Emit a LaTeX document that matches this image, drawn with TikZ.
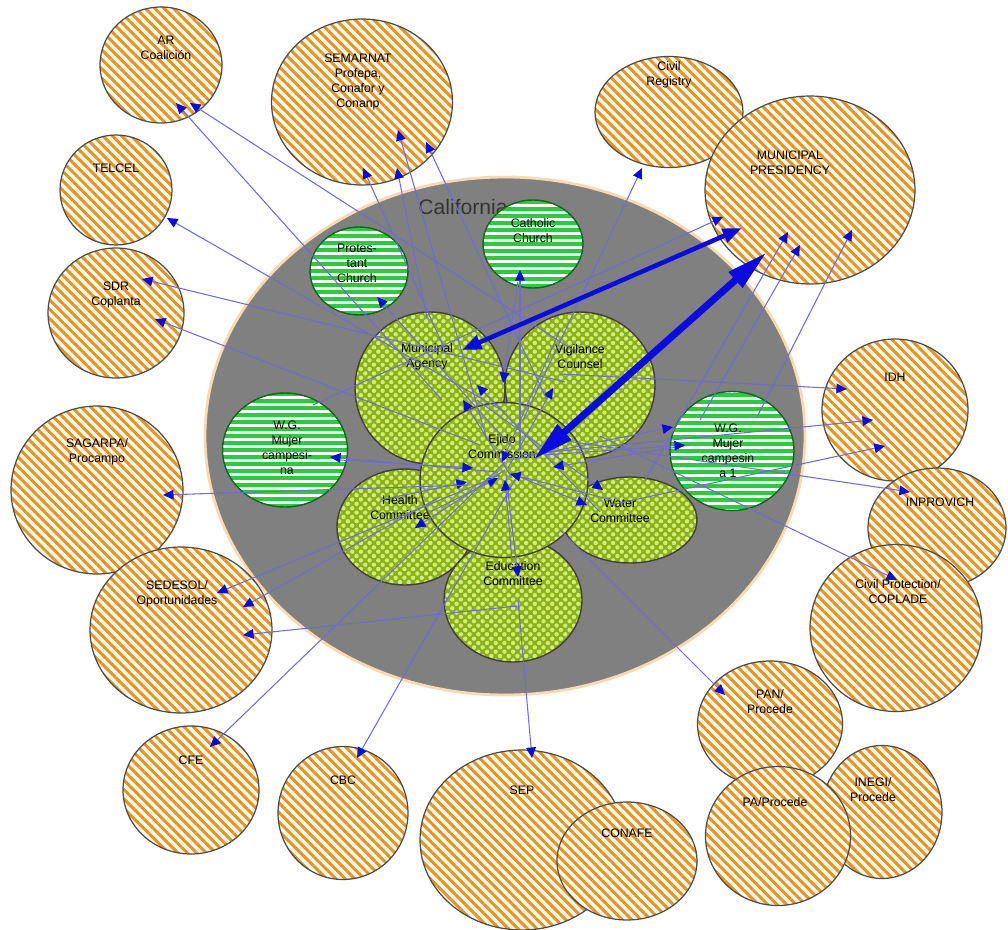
\documentclass[tikz,border=0pt]{standalone}
\usepackage{fontspec}
\setmainfont{Liberation Sans}
\usetikzlibrary{arrows.meta,shapes.geometric,patterns.meta}

\definecolor{stripeor}{RGB}{226,148,38}
\definecolor{paleor}{RGB}{255,248,232}
\definecolor{churchgr}{RGB}{40,205,60}
\definecolor{churchln}{RGB}{20,100,30}
\definecolor{commbase}{RGB}{138,176,26}
\definecolor{commdot}{RGB}{212,236,118}
\definecolor{linkblue}{RGB}{110,110,210}
\definecolor{tipblue}{RGB}{10,10,225}
\definecolor{valley}{RGB}{128,128,128}
\definecolor{rimor}{RGB}{248,218,178}

\begin{document}
\begin{tikzpicture}[x=0.02cm, y=-0.02cm,
  org/.style={ellipse, draw=black!70, line width=0.7pt, inner sep=0pt, preaction={fill=paleor},
    pattern={Lines[angle=-45,distance=3.8pt,line width=1.7pt]}, pattern color=stripeor},
  church/.style={ellipse, draw=churchln, line width=0.8pt, inner sep=0pt, fill=white,
    path picture={\foreach \k in {-10,...,10}
      \draw[churchgr, line width=2.3pt] ([yshift=\k*4pt]path picture bounding box.west) -- ([yshift=\k*4pt]path picture bounding box.east);}},
  comm/.style={ellipse, draw=black!75, line width=0.8pt, inner sep=0pt, preaction={fill=commbase},
    pattern={Dots[angle=45,distance=3.5pt,radius=1.25pt]}, pattern color=commdot},
  lbl/.style={align=center, font=\fontsize{7}{8.5}\selectfont, text=black, inner sep=0pt},
  link/.style={draw=linkblue, line width=0.6pt, -{Triangle[length=6pt,width=5.5pt,color=tipblue]}},
  biglink/.style={draw=tipblue, line width=2.6pt, {Triangle[length=11pt,width=8pt]}-{Triangle[length=11pt,width=8pt]}},
  hugelink/.style={draw=tipblue, line width=4pt, {Triangle[length=24pt,width=11pt]}-{Triangle[length=24pt,width=11pt]}}]
\useasboundingbox (0,0) rectangle (1008,930);
\draw[fill=valley, draw=rimor, line width=1.6pt] (505,436) ellipse [x radius=300, y radius=259];
\node[font=\fontsize{12}{14}\selectfont, text=black!80] (calif) at (463,207) {California};

\node[org, minimum width=2.44cm, minimum height=2.32cm, label={[lbl,xshift=0.1cm,yshift=0.34cm]center:{AR\\Coalición}}] (ar) at (161,65) {};
\node[org, minimum width=3.62cm, minimum height=3.32cm, label={[lbl,xshift=-0.08cm,yshift=0.4cm]center:{SEMARNAT\\Profepa,\\Conafor y\\Conanp}}] (semarnat) at (362,102) {};
\node[org, minimum width=2.96cm, minimum height=2.22cm, label={[lbl,yshift=0.74cm]center:{Civil\\Registry}}] (civil) at (669,112) {};
\node[org, minimum width=4.2cm, minimum height=3.76cm, label={[lbl,xshift=-0.4cm,yshift=0.54cm]center:{MUNICIPAL\\PRESIDENCY}}] (presidency) at (810,190) {};
\node[org, minimum width=2.24cm, minimum height=2.2cm, label={[lbl,yshift=0.44cm]center:{TELCEL}}] (telcel) at (116,190) {};
\node[org, minimum width=2.72cm, minimum height=2.6cm, label={[lbl,yshift=0.36cm]center:{SDR\\Coplanta}}] (sdr) at (116,313) {};
\node[org, minimum width=3.44cm, minimum height=3.36cm, label={[lbl,yshift=0.76cm]center:{SAGARPA/\\Procampo}}] (sagarpa) at (97,490) {};
\node[org, minimum width=3.64cm, minimum height=3.32cm, label={[lbl,xshift=-0.08cm,yshift=0.72cm]center:{SEDESOL/\\Oportunidades}}] (sedesol) at (181,630) {};
\node[org, minimum width=2.72cm, minimum height=2.56cm, label={[lbl,yshift=0.6cm]center:{CFE}}] (cfe) at (191,790) {};
\node[org, minimum width=2.6cm, minimum height=2.66cm, label={[lbl,yshift=0.66cm]center:{CBC}}] (cbc) at (343,813) {};
\node[org, minimum width=4.08cm, minimum height=3.6cm, label={[lbl,yshift=1cm]center:{SEP}}] (sep) at (522,840) {};
\node[org, minimum width=2.8cm, minimum height=2.36cm, label={[lbl,yshift=0.56cm]center:{CONAFE}}] (conafe) at (627,861) {};
\node[org, minimum width=2.9cm, minimum height=2.52cm, label={[lbl,yshift=0.44cm]center:{PAN/\\Procede}}] (pan) at (770,724) {};
\node[org, minimum width=2.4cm, minimum height=2.66cm, label={[lbl,xshift=-0.18cm,yshift=0.44cm]center:{INEGI/\\Procede}}] (inegi) at (882,812) {};
\node[org, minimum width=2.9cm, minimum height=2.78cm, label={[lbl,xshift=-0.06cm,yshift=0.68cm]center:{PA/Procede}}] (pa) at (778,836) {};
\node[org, minimum width=2.92cm, minimum height=2.84cm, label={[lbl,yshift=0.66cm]center:{IDH}}] (idh) at (895,410) {};
\node[org, minimum width=2.76cm, minimum height=2.4cm, label={[lbl,xshift=0.06cm,yshift=0.52cm]center:{INPROVICH}}] (inprovich) at (937,528) {};
\node[org, minimum width=3.44cm, minimum height=3.34cm, label={[lbl,xshift=0.04cm,yshift=0.72cm]center:{Civil Protection/\\COPLADE}}] (coplade) at (896,628) {};

\node[church, minimum width=1.96cm, minimum height=1.76cm, label={[lbl,xshift=-0.04cm,yshift=0.16cm]center:{Protes-\\tant\\Church}}] (protestant) at (359,271) {};
\node[church, minimum width=2cm, minimum height=1.76cm, label={[lbl,yshift=0.26cm]center:{Catholic\\Church}}] (catholic) at (533,244) {};
\node[church, minimum width=2.5cm, minimum height=2.28cm, label={[lbl,xshift=0.04cm,yshift=0.04cm]center:{W.G.\\Mujer\\campesi-\\na}}] (wgl) at (285,450) {};
\node[church, minimum width=2.48cm, minimum height=2.38cm, label={[lbl,xshift=-0.08cm]center:{W.G.\\Mujer\\campesin\\a 1}}] (wgr) at (732,451) {};

\node[comm, minimum width=3cm, minimum height=3.04cm, label={[lbl,xshift=-0.06cm,yshift=0.62cm]center:{Municipal\\Agency}}] (agency) at (430,388) {};
\node[comm, minimum width=3cm, minimum height=2.92cm, label={[lbl,yshift=0.56cm]center:{Vigilance\\Counsel}}] (vigilance) at (580,385) {};
\node[comm, minimum width=2.72cm, minimum height=2.32cm, label={[lbl,xshift=-0.1cm,yshift=0.38cm]center:{Health\\Committee}}] (health) at (405,527) {};
\node[comm, minimum width=2.68cm, minimum height=1.72cm, label={[lbl,xshift=-0.2cm,yshift=0.18cm]center:{Water\\Committee}}] (water) at (630,520) {};
\node[comm, minimum width=2.76cm, minimum height=2.48cm, label={[lbl,yshift=0.52cm]center:{Education\\Committee}}] (education) at (513,600) {};
\node[comm, minimum width=3.36cm, minimum height=3.1cm, label={[lbl,xshift=-0.04cm,yshift=0.66cm]center:{Ejido\\Commission}}] (ejido) at (504,480) {};

\draw[link] ([shift={(1,-10)}]ejido.center) -- ([shift={(10,1)}]health.center);
\draw[link] ([shift={(4,-8)}]ejido.center) -- ([shift={(-43,-15)}]water.center);
\draw[link] ([shift={(47,12)}]agency.center) -- ([shift={(-27,-30)}]water.center);
\draw[link] ([shift={(2,-5)}]ejido.center) -- ([shift={(5,-23)}]education.center);
\draw[link] ([shift={(-6,-8)}]ejido.center) -- ([shift={(45,7)}]wgl.center);
\draw[link] ([shift={(8,-2)}]ejido.center) -- ([shift={(33,12)}]agency.center);
\draw[link] ([shift={(-30,-8)}]water.center) -- ([shift={(47,-3)}]agency.center);
\draw[link] ([shift={(-15,38)}]catholic.center) -- ([shift={(73,-5)}]agency.center);
\draw[link] ([shift={(4,-12)}]ejido.center) -- ([shift={(-27,3)}]vigilance.center);
\draw[link] ([shift={(55,10)}]wgl.center) -- ([shift={(-31,-12)}]ejido.center);
\draw[link] ([shift={(-25,-27)}]health.center) -- ([shift={(-37,2)}]ejido.center);
\draw[link] ([shift={(-20,-55)}]vigilance.center) -- ([shift={(-2,-18)}]ejido.center);
\draw[link] ([shift={(-42,-6)}]wgr.center) -- ([shift={(49,-13)}]ejido.center);
\draw[link] ([shift={(-18,-20)}]water.center) -- ([shift={(6,-6)}]ejido.center);
\draw[link] ([shift={(-1,-40)}]education.center) -- ([shift={(1,0)}]ejido.center);
\draw[link] ([shift={(25,-15)}]health.center) -- ([shift={(-6,-2)}]ejido.center);

\draw[link] ([shift={(12,12)}]agency.center) -- ([shift={(15,38)}]ar.center);
\draw[link] ([shift={(-7,-35)}]vigilance.center) -- ([shift={(29,38)}]ar.center);
\draw[link] ([shift={(1,-68)}]ejido.center) -- ([shift={(51,28)}]telcel.center);
\draw[link] ([shift={(-15,-3)}]vigilance.center) -- ([shift={(26,-34)}]sdr.center);
\draw[link] ([shift={(-24,-35)}]ejido.center) -- ([shift={(39,6)}]sdr.center);
\draw[link] ([shift={(-34,5)}]ejido.center) -- ([shift={(66,5)}]sagarpa.center);
\draw[link] ([shift={(-4,-5)}]ejido.center) -- ([shift={(36,-37)}]sedesol.center);
\draw[link] ([shift={(35,-30)}]health.center) -- ([shift={(62,-23)}]sedesol.center);
\draw[link] ([shift={(4,6)}]education.center) -- ([shift={(62,5)}]sedesol.center);
\draw[link] ([shift={(1,-18)}]ejido.center) -- ([shift={(19,-43)}]cfe.center);
\draw[link] ([shift={(11,0)}]ejido.center) -- ([shift={(14,-55)}]cbc.center);
\draw[link] ([shift={(5,0)}]education.center) -- ([shift={(10,-82)}]sep.center);
\draw[link] ([shift={(56,50)}]ejido.center) -- ([shift={(-45,-29)}]pan.center);
\draw[link] ([shift={(20,51)}]vigilance.center) -- ([shift={(1,-48)}]coplade.center);
\draw[link] ([shift={(56,-40)}]ejido.center) -- ([shift={(-27,-36)}]inprovich.center);
\draw[link] ([shift={(-20,-11)}]vigilance.center) -- ([shift={(-48,-21)}]idh.center);
\draw[link] ([shift={(16,-25)}]ejido.center) -- ([shift={(-22,10)}]idh.center);
\draw[link] ([shift={(-20,-15)}]water.center) -- ([shift={(-10,36)}]idh.center);
\draw[link] ([shift={(6,-20)}]ejido.center) -- ([shift={(-59,-24)}]wgr.center);
\draw[link] ([shift={(41,-25)}]ejido.center) -- ([shift={(-47,-6)}]wgr.center);
\draw[link] ([shift={(15,-40)}]water.center) -- ([shift={(-22,42)}]presidency.center);
\draw[link] ([shift={(-32,-31)}]wgr.center) -- ([shift={(-10,55)}]presidency.center);
\draw[link] ([shift={(25,-34)}]wgr.center) -- ([shift={(42,40)}]presidency.center);
\draw[link] ([shift={(28,-45)}]wgl.center) -- ([shift={(-87,27)}]presidency.center);
\draw[link] ([shift={(19,-60)}]ejido.center) -- ([shift={(-27,56)}]civil.center);
\draw[link] ([shift={(15,-38)}]agency.center) -- ([shift={(1,66)}]semarnat.center);
\draw[link] ([shift={(-3,-70)}]agency.center) -- ([shift={(35,66)}]semarnat.center);
\draw[link] ([shift={(-17,-40)}]ejido.center) -- ([shift={(36,28)}]semarnat.center);
\draw[link] ([shift={(-33,15)}]vigilance.center) -- ([shift={(64,40)}]semarnat.center);
\draw[link] ([shift={(6,-35)}]ejido.center) -- ([shift={(18,26)}]protestant.center);
\draw[link] ([shift={(16,-30)}]ejido.center) -- ([shift={(-13,26)}]catholic.center);

\draw[biglink] ([shift={(32,-38)}]agency.center) -- ([shift={(-68,38)}]presidency.center);
\draw[hugelink] ([shift={(29,-20)}]ejido.center) -- ([shift={(-43,62)}]presidency.center);
\end{tikzpicture}
\end{document}
